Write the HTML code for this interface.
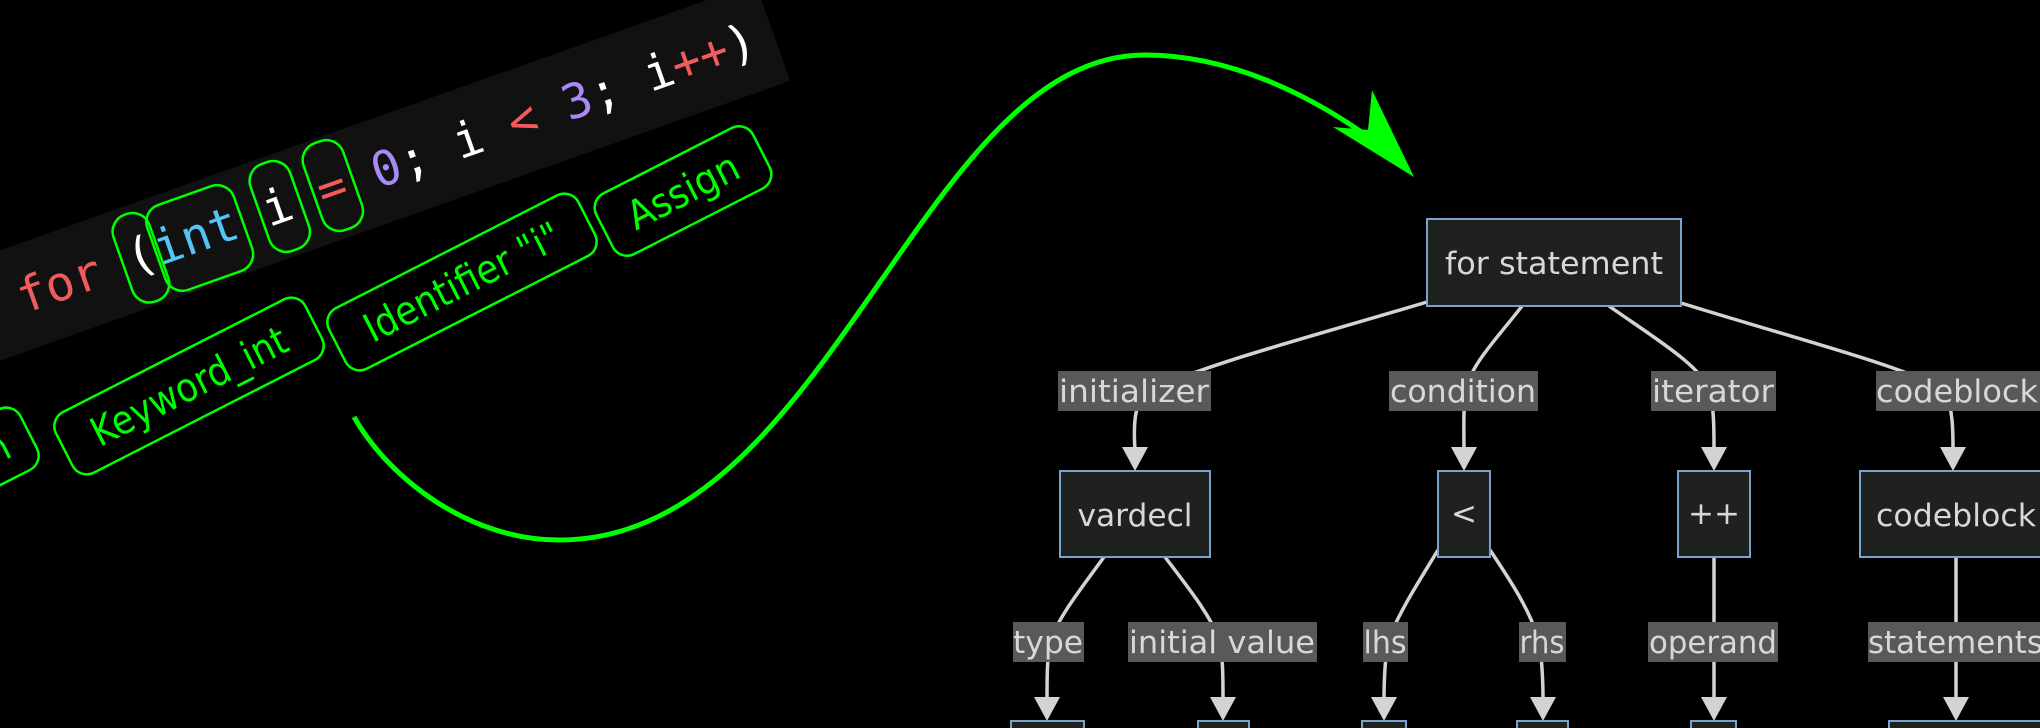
<!DOCTYPE html>
<html><head><meta charset="utf-8"><style>
html,body{margin:0;padding:0;background:#000;}
svg{display:block;}
.lbl{fill:#d8d8d8;font-family:"DejaVu Sans","Liberation Sans",sans-serif;font-size:31px;}
.lb{fill:#595959;}
.nd{fill:#1f2121;stroke:#7aa3cc;stroke-width:2;}
.e{fill:none;stroke:#d3d3d3;stroke-width:3.5;}
.ah{fill:#d3d3d3;}
.tk{fill:none;stroke:#00ff00;stroke-width:2.5;}
.tt{fill:#00ff00;font-family:"DejaVu Sans","Liberation Sans",sans-serif;font-size:40px;}
</style></head><body>
<svg width="2040" height="728" viewBox="0 0 2040 728" xmlns="http://www.w3.org/2000/svg">
<rect width="2040" height="728" fill="#000"/>
<!-- code strip -->
<g transform="translate(24,314) rotate(-19.5)">
<rect x="-60" y="-68" width="860" height="104" fill="#111"/>
<text x="0" y="0" font-family="DejaVu Sans Mono,Liberation Mono,monospace" font-size="48" xml:space="preserve"><tspan fill="#f25b5b">for</tspan><tspan fill="#fff"> (</tspan><tspan fill="#55c4f5">int</tspan><tspan fill="#fff"> i </tspan><tspan fill="#f25b5b">=</tspan><tspan fill="#a98af5"> 0</tspan><tspan fill="#fff">; i </tspan><tspan fill="#f25b5b">&lt;</tspan><tspan fill="#a98af5"> 3</tspan><tspan fill="#fff">; i</tspan><tspan fill="#f25b5b">++</tspan><tspan fill="#fff">)</tspan></text>
<rect class="tk" x="110" y="-60" width="38" height="92" rx="18"/>
<rect class="tk" x="145" y="-58" width="92" height="90" rx="18"/>
<rect class="tk" x="256" y="-62" width="42" height="92" rx="18"/>
<rect class="tk" x="313" y="-64" width="42" height="92" rx="18"/>
</g>
<!-- tokens -->
<g transform="translate(2,446) rotate(-27)"><rect class="tk" x="-130" y="-34" width="160" height="68" rx="16"/><text class="tt" x="6" y="14" text-anchor="end" textLength="120" lengthAdjust="spacingAndGlyphs">LParen</text></g>
<g transform="translate(189,386) rotate(-27)"><rect class="tk" x="-140" y="-34" width="280" height="68" rx="16"/><text class="tt" x="0" y="14" text-anchor="middle" textLength="215" lengthAdjust="spacingAndGlyphs">Keyword_int</text></g>
<g transform="translate(462,282) rotate(-27)"><rect class="tk" x="-140" y="-34" width="280" height="68" rx="16"/><text class="tt" x="0" y="14" text-anchor="middle" textLength="215" lengthAdjust="spacingAndGlyphs">Identifier "i"</text></g>
<g transform="translate(683,191) rotate(-27)"><rect class="tk" x="-88" y="-34" width="176" height="68" rx="16"/><text class="tt" x="0" y="14" text-anchor="middle" textLength="120" lengthAdjust="spacingAndGlyphs">Assign</text></g>
<!-- green arrow -->
<path d="M354,417 C390,480 470,540 559,540 C830,540 920,55 1145,55 C1230,55 1310,95 1370,138" fill="none" stroke="#00ff00" stroke-width="5"/>
<polygon points="1372,90 1414,177 1333,127 1368,130" fill="#00ff00"/>
<!-- tree edges -->
<path class="e" d="M1427,302 C1300,340 1220,360 1150,390 C1135,400 1133,420 1135,450"/>
<path class="e" d="M1522,306 C1500,335 1470,365 1466,390 C1463,410 1464,430 1464,450"/>
<path class="e" d="M1609,306 C1650,335 1700,365 1710,390 C1714,410 1714,430 1714,450"/>
<path class="e" d="M1681,303 C1800,340 1900,365 1945,390 C1953,410 1953,430 1953,450"/>
<path class="e" d="M1104,557 C1080,590 1060,615 1050,641 C1047,660 1047,680 1047,700"/>
<path class="e" d="M1165,557 C1190,590 1210,615 1220,641 C1223,660 1223,680 1223,700"/>
<path class="e" d="M1438,550 C1420,580 1400,610 1388,641 C1385,660 1384,680 1384,700"/>
<path class="e" d="M1490,550 C1510,580 1530,610 1539,641 C1542,660 1543,680 1543,700"/>
<path class="e" d="M1714,557 L1714,700"/>
<path class="e" d="M1956,557 L1956,700"/>
<g class="ah">
<polygon points="1122,447 1148,447 1135,471"/>
<polygon points="1451,447 1477,447 1464,471"/>
<polygon points="1701,447 1727,447 1714,471"/>
<polygon points="1940,447 1966,447 1953,471"/>
<polygon points="1034,697 1060,697 1047,721"/>
<polygon points="1210,697 1236,697 1223,721"/>
<polygon points="1371,697 1397,697 1384,721"/>
<polygon points="1530,697 1556,697 1543,721"/>
<polygon points="1701,697 1727,697 1714,721"/>
<polygon points="1943,697 1969,697 1956,721"/>
</g>
<!-- nodes -->
<rect class="nd" x="1427" y="219" width="254" height="87"/>
<text class="lbl" x="1554" y="274" text-anchor="middle" font-size="33" textLength="218" lengthAdjust="spacingAndGlyphs">for statement</text>
<rect class="nd" x="1060" y="471" width="150" height="86"/>
<text class="lbl" x="1135" y="526" text-anchor="middle" font-size="33" textLength="115" lengthAdjust="spacingAndGlyphs">vardecl</text>
<rect class="nd" x="1438" y="471" width="52" height="86"/>
<text class="lbl" x="1464" y="524" text-anchor="middle" font-size="24">&lt;</text>
<rect class="nd" x="1678" y="471" width="72" height="86"/>
<text class="lbl" x="1714" y="524" text-anchor="middle" font-size="24">++</text>
<rect class="nd" x="1860" y="471" width="200" height="86"/>
<text class="lbl" x="1876" y="526" font-size="33" textLength="160" lengthAdjust="spacingAndGlyphs">codeblock</text>
<rect class="nd" x="1011" y="721" width="73" height="20"/>
<rect class="nd" x="1198" y="721" width="51" height="20"/>
<rect class="nd" x="1362" y="721" width="44" height="20"/>
<rect class="nd" x="1517" y="721" width="51" height="20"/>
<rect class="nd" x="1691" y="721" width="45" height="20"/>
<rect class="nd" x="1889" y="721" width="160" height="20"/>
<!-- edge labels -->
<rect class="lb" x="1058" y="371" width="153" height="40"/><text class="lbl" x="1134" y="402" text-anchor="middle" textLength="150" lengthAdjust="spacingAndGlyphs">initializer</text>
<rect class="lb" x="1389" y="371" width="149" height="40"/><text class="lbl" x="1463" y="402" text-anchor="middle" textLength="146" lengthAdjust="spacingAndGlyphs">condition</text>
<rect class="lb" x="1651" y="371" width="125" height="40"/><text class="lbl" x="1713" y="402" text-anchor="middle" textLength="122" lengthAdjust="spacingAndGlyphs">iterator</text>
<rect class="lb" x="1876" y="371" width="164" height="40"/><text class="lbl" x="1876" y="402" textLength="162" lengthAdjust="spacingAndGlyphs">codeblock</text>
<rect class="lb" x="1013" y="622" width="71" height="40"/><text class="lbl" x="1048" y="653" text-anchor="middle" textLength="70" lengthAdjust="spacingAndGlyphs">type</text>
<rect class="lb" x="1128" y="622" width="189" height="40"/><text class="lbl" x="1222" y="653" text-anchor="middle" textLength="186" lengthAdjust="spacingAndGlyphs">initial value</text>
<rect class="lb" x="1363" y="622" width="45" height="40"/><text class="lbl" x="1385" y="653" text-anchor="middle" textLength="43" lengthAdjust="spacingAndGlyphs">lhs</text>
<rect class="lb" x="1519" y="622" width="47" height="40"/><text class="lbl" x="1542" y="653" text-anchor="middle" textLength="45" lengthAdjust="spacingAndGlyphs">rhs</text>
<rect class="lb" x="1648" y="622" width="130" height="40"/><text class="lbl" x="1713" y="653" text-anchor="middle" textLength="128" lengthAdjust="spacingAndGlyphs">operand</text>
<rect class="lb" x="1868" y="622" width="172" height="40"/><text class="lbl" x="1868" y="653" textLength="175" lengthAdjust="spacingAndGlyphs">statements</text>
</svg>
</body></html>
